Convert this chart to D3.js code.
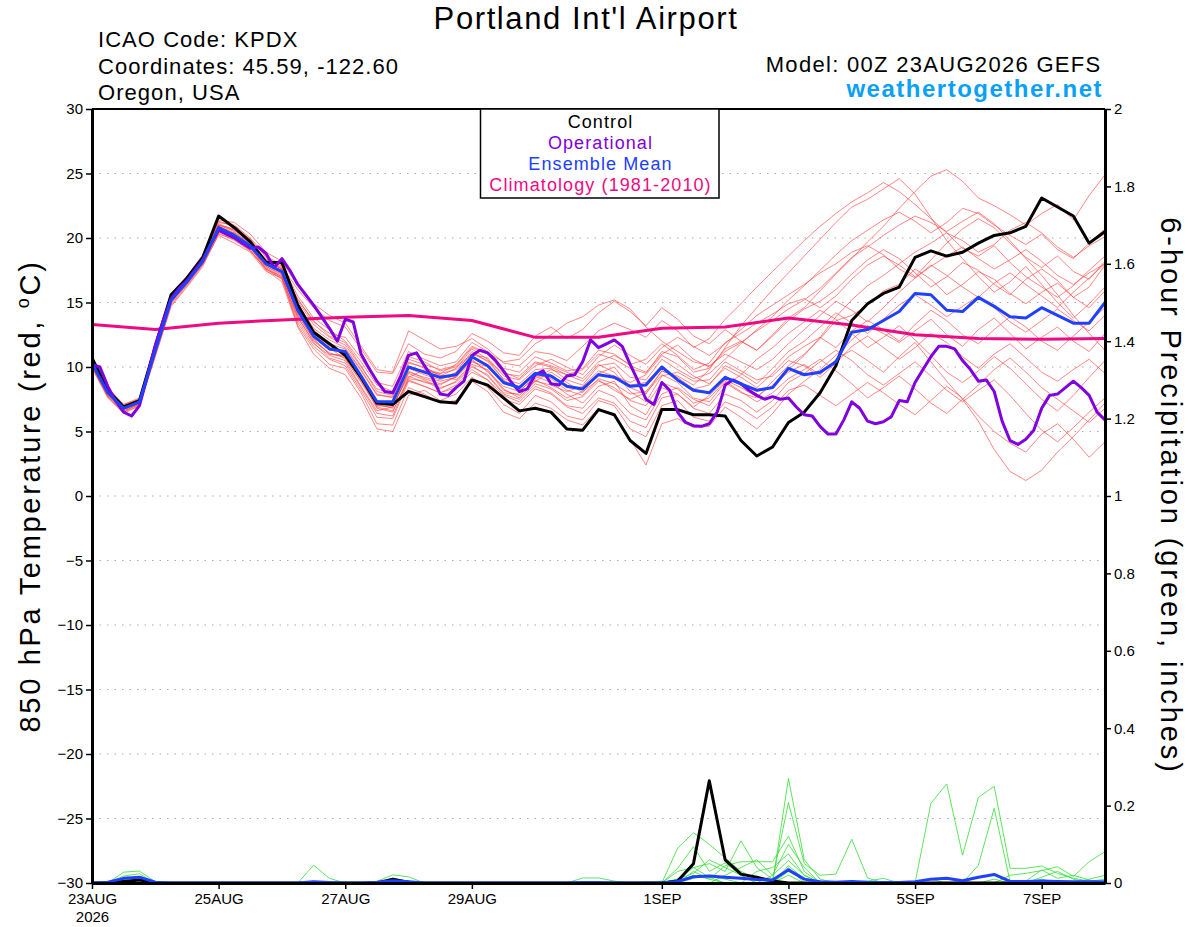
<!DOCTYPE html>
<html>
<head>
<meta charset="utf-8">
<script src="https://cdn.jsdelivr.net/npm/d3@7"></script>
<style>
  body { margin: 0; background: #fff; }
  svg { font-family: "Liberation Sans", Arial, Helvetica, sans-serif; }
</style>
</head>
<body>
<svg id="chart" width="1200" height="927"></svg>
<script>
// ---- data (6-hourly from 00Z 23AUG2026 unless noted) ----
const runStart = Date.UTC(2026, 7, 23, 0);
const tempTicks = [-30, -25, -20, -15, -10, -5, 0, 5, 10, 15, 20, 25, 30];
const precipTicks = [0, 0.2, 0.4, 0.6, 0.8, 1, 1.2, 1.4, 1.6, 1.8, 2];
const dateTicks = ['2026-08-23', '2026-08-25', '2026-08-27', '2026-08-29',
                   '2026-09-01', '2026-09-03', '2026-09-05', '2026-09-07'];
const legendItems = [
  { label: 'Control', color: '#000000' },
  { label: 'Operational', color: '#8000e0' },
  { label: 'Ensemble Mean', color: '#2040ff' },
  { label: 'Climatology (1981-2010)', color: '#ee0a82' }
];

const controlTemp = [10.7,8.2,6.9,7.4,11.6,15.6,16.9,18.5,21.7,20.8,19.7,18.1,18.1,
  14.8,12.7,11.8,10.9,9.2,7.2,7.1,8.1,7.7,7.3,7.2,9.0,8.6,
  7.6,6.6,6.8,6.5,5.2,5.1,6.7,6.3,4.3,3.3,6.7,6.7,6.3,
  6.3,6.2,4.3,3.1,3.8,5.7,6.5,8.0,10.1,13.6,14.9,15.7,16.2,
  18.5,19.0,18.6,18.9,19.6,20.2,20.4,20.9,23.1,22.4,21.7,19.6,20.5];

const meanTemp = [10.3,8.0,6.8,7.3,11.3,15.2,16.6,18.2,20.8,20.2,19.4,18.0,17.4,
  14.4,12.4,11.4,11.2,9.3,7.3,7.3,10.0,9.6,9.2,9.4,10.8,10.1,
  8.8,8.4,9.5,9.3,8.5,8.3,9.4,9.2,8.5,8.6,10.0,9.0,8.2,
  8.0,9.2,8.7,8.2,8.4,9.9,9.4,9.6,10.4,12.7,12.9,13.6,14.3,
  15.7,15.6,14.4,14.3,15.4,14.7,13.9,13.8,14.6,14.0,13.4,13.4,15.0];

// operational run, 3-hourly
const operTemp = [10.2,10.0,8.5,7.35,6.5,6.2,7.0,9.3,11.7,13.6,15.3,16.1,16.7,
  17.5,18.3,19.5,20.6,20.3,20.0,19.6,19.2,19.3,18.8,17.7,18.4,17.5,
  16.4,15.6,14.8,13.9,13.0,12.0,13.7,13.5,11.0,9.9,8.9,8.1,8.0,
  9.3,10.9,11.1,10.1,9.2,7.9,7.8,8.4,8.9,10.9,11.3,11.1,10.5,
  9.7,8.8,8.1,8.3,9.4,9.7,8.7,8.6,9.3,9.4,10.4,12.1,11.5,
  11.8,12.1,11.6,10.2,8.9,7.5,7.1,8.8,8.2,6.5,5.7,5.45,5.4,
  5.6,6.5,8.6,9.0,8.7,8.2,7.8,7.5,7.7,7.5,7.6,6.9,6.3,
  6.2,5.4,4.8,4.8,5.9,7.3,6.8,5.8,5.6,5.75,6.15,7.4,7.3,
  8.8,9.8,10.8,11.6,11.6,11.4,10.5,9.8,8.9,9.0,8.1,5.8,4.3,
  4.0,4.4,5.1,6.8,7.8,7.9,8.4,8.9,8.4,7.8,6.5,5.9];

// climatology, daily
const climTemp = [13.3,12.9,13.4,13.65,13.85,14.0,13.6,12.3,12.3,13.0,13.1,13.8,13.25,12.5,12.2,12.15,12.2];

const ensembleTemp = [
  [10.5,8.3,7.0,7.5,11.8,15.6,17.0,18.6,21.2,21.0,20.0,18.6,17.9,15.5,13.8,12.9,12.0,10.4,8.6,8.1,10.6,10.2,9.8,
   10.1,11.5,11.0,9.6,9.1,10.3,10.0,9.4,9.8,11.0,10.6,9.9,9.5,11.2,10.8,9.6,9.9,11.4,12.0,11.3,12.5,13.8,
   14.6,15.9,17.2,18.4,19.7,20.9,22.3,23.6,24.8,25.3,24.4,23.1,22.5,21.8,21.0,21.9,22.6,21.4,23.3,24.9],
  [10.1,7.8,6.6,7.1,11.0,14.9,16.4,18.0,20.6,20.4,19.6,18.3,17.6,14.9,13.0,12.1,11.5,9.8,7.9,7.6,9.9,9.4,9.0,
   9.6,11.2,10.4,9.1,8.7,9.8,9.9,9.0,8.6,10.1,10.3,9.2,9.0,10.6,9.8,9.1,9.5,10.6,11.8,12.9,13.9,15.2,
   16.3,17.5,18.7,19.8,20.6,21.4,22.0,21.3,20.4,21.2,22.3,21.9,21.0,20.2,19.5,20.3,19.1,18.4,19.6,20.7],
  [10.4,8.1,6.9,7.4,11.5,15.4,16.9,18.4,21.0,20.6,19.8,18.1,17.2,14.0,12.2,11.0,10.8,9.0,6.8,6.5,9.2,9.8,9.4,
   9.0,10.2,9.8,8.3,7.6,8.9,9.6,8.8,8.0,9.5,10.0,8.4,7.9,9.7,9.3,8.6,9.8,11.5,13.2,14.6,16.0,17.3,
   18.6,19.9,21.2,22.4,23.0,23.8,24.6,23.4,21.6,19.8,18.4,17.0,15.8,16.6,17.8,16.4,15.0,13.8,14.9,16.2],
  [9.9,7.6,6.4,7.0,10.8,14.7,16.2,17.8,20.3,19.9,19.2,17.7,17.0,13.6,11.8,10.9,10.5,8.5,6.6,6.9,9.5,9.0,8.4,
   8.8,10.0,9.4,8.0,7.9,9.0,8.4,7.6,8.1,9.0,8.2,7.5,8.0,9.4,8.8,7.6,7.3,8.8,8.0,7.6,8.9,10.1,
   11.0,12.2,13.6,14.0,14.8,15.9,16.4,17.6,16.8,15.6,16.4,17.4,16.8,15.7,14.9,15.8,16.5,15.4,14.6,15.9],
  [10.2,7.9,6.7,7.2,11.1,15.0,16.5,18.1,20.5,20.0,19.1,17.5,16.6,13.1,11.0,9.9,9.4,7.6,5.2,5.0,7.8,8.2,7.4,
   7.9,9.2,8.4,7.1,6.4,7.8,7.3,6.2,5.9,7.4,7.0,5.2,4.6,7.0,7.4,6.1,5.8,7.3,6.8,6.0,6.9,8.2,
   8.6,7.8,7.0,7.9,8.8,8.0,7.1,6.3,7.4,8.5,7.6,6.2,5.0,4.1,3.4,4.8,5.6,4.4,3.0,4.2],
  [10.6,8.2,7.1,7.6,11.6,15.5,16.8,18.3,20.9,20.3,19.3,17.8,17.1,14.3,12.6,11.5,10.6,8.9,7.1,6.8,9.7,9.1,8.7,
   9.2,10.6,9.6,8.5,8.1,9.3,8.8,7.9,7.2,8.5,8.9,7.0,6.3,8.4,7.9,6.9,7.8,9.0,8.4,7.7,8.6,9.6,
   10.2,9.4,10.6,11.3,10.5,9.6,10.8,11.9,10.4,8.9,7.5,5.8,3.6,1.9,1.2,2.0,3.4,4.6,5.9,7.2],
  [10.0,7.7,6.5,7.2,11.4,15.3,16.7,18.5,21.3,20.9,19.9,18.5,17.8,16.0,14.6,13.6,13.1,11.4,9.6,9.5,11.8,11.0,10.7,
   11.2,12.6,12.0,11.1,10.9,12.4,13.1,12.2,12.9,14.2,15.1,14.3,13.2,14.6,13.7,12.4,11.8,12.9,12.0,11.3,12.4,13.6,
   14.5,15.1,16.0,17.2,18.3,19.1,18.4,17.3,16.2,17.0,18.1,17.5,16.4,15.6,16.8,17.6,16.7,15.4,16.2,17.9],
  [10.3,8.0,6.8,7.3,11.2,15.1,16.6,18.0,20.2,19.6,18.9,17.4,16.9,13.2,11.4,10.2,9.9,8.0,5.6,5.5,8.4,7.9,7.2,
   7.4,8.9,8.1,6.5,6.0,7.2,6.8,5.9,5.5,6.8,6.2,4.4,2.4,5.6,6.0,5.3,5.4,6.9,6.1,5.2,6.4,7.9,
   8.9,9.8,10.9,12.1,13.2,12.6,11.9,12.8,13.7,12.5,11.6,12.9,13.8,12.6,11.4,12.3,13.1,12.0,11.2,12.6],
  [10.4,8.1,6.9,7.3,11.3,15.2,16.6,18.2,20.7,20.1,19.4,18.1,17.5,14.5,12.5,11.4,11.1,9.3,7.4,7.2,9.9,9.6,9.1,
   9.5,10.9,10.1,8.8,8.5,9.6,9.3,8.4,8.3,9.5,9.1,8.6,8.8,10.1,9.0,8.1,8.0,9.3,8.6,8.1,8.5,9.8,
   10.9,12.3,13.9,15.2,16.3,17.1,18.0,18.9,19.6,20.4,19.8,18.9,19.5,20.6,21.2,20.4,19.3,18.5,19.4,20.1],
  [10.1,7.9,6.7,7.4,11.5,15.4,16.9,18.4,20.9,20.4,19.5,18.2,17.3,14.1,12.1,11.0,10.9,9.0,7.0,7.1,10.3,10.0,9.3,
   9.9,11.4,10.6,9.0,8.2,9.1,9.8,9.4,8.9,10.2,9.6,8.1,7.3,9.3,9.6,8.9,9.0,10.4,9.7,9.0,9.3,10.5,
   10.1,9.2,10.3,11.6,12.4,11.5,10.6,11.5,12.6,11.9,10.8,9.9,11.0,11.8,10.7,9.6,8.9,9.8,10.6,9.5],
  [10.5,8.2,7.0,7.3,11.2,15.2,16.7,18.3,21.0,20.5,19.6,18.4,17.7,15.1,13.3,12.3,11.7,10.0,8.3,7.9,10.8,10.4,9.7,
   10.0,11.0,10.5,9.5,9.3,10.4,10.1,9.6,9.1,10.4,10.9,10.2,10.6,11.8,10.9,9.8,10.3,11.9,12.6,13.4,14.1,14.9,
   15.3,14.6,15.5,16.8,17.9,18.6,17.9,17.0,18.3,19.6,20.7,21.5,20.8,19.6,18.5,17.7,18.6,17.4,16.8,18.2],
  [10.2,7.8,6.6,7.1,11.0,15.0,16.5,18.1,20.6,20.0,19.2,17.8,17.2,14.2,12.3,11.3,11.2,9.4,7.3,7.0,9.3,8.8,8.6,
   9.3,10.5,9.7,8.2,7.8,8.9,8.6,8.1,8.5,9.7,9.3,8.8,9.4,10.9,10.2,9.3,8.7,9.9,9.2,8.4,9.5,10.8,
   11.6,12.3,11.5,12.8,13.6,12.9,12.0,13.3,14.4,13.6,12.5,11.8,12.9,13.9,13.1,12.0,11.3,12.4,13.5,14.6],
  [10.6,8.4,7.1,7.5,11.7,15.6,17.0,18.7,21.4,21.2,20.3,18.9,18.2,16.3,14.9,14.0,13.4,11.6,9.8,9.6,12.8,12.1,11.4,
   11.6,12.2,11.4,10.3,10.1,11.2,11.0,10.5,11.6,12.8,13.4,12.9,12.3,13.6,12.8,11.5,12.2,13.7,14.9,16.2,17.4,18.6,
   19.8,20.9,21.9,22.8,23.5,24.3,23.6,22.6,21.5,20.4,19.2,18.6,19.4,18.1,17.0,16.2,15.4,16.3,17.5,18.6],
  [10.0,7.7,6.5,7.0,10.9,14.8,16.3,17.9,20.4,19.8,19.0,17.6,17.0,13.8,12.0,11.1,10.7,8.8,6.9,6.6,9.0,8.5,8.0,
   8.6,9.8,9.0,7.8,7.3,8.5,8.0,7.0,6.8,8.2,7.7,6.4,5.9,7.9,8.4,7.5,7.0,8.5,9.4,10.6,11.5,12.6,
   13.5,14.4,13.7,12.6,11.5,12.3,13.2,12.1,10.9,9.6,8.8,9.7,10.8,9.9,8.7,7.5,6.6,7.8,9.2,10.5],
  [10.3,8.0,6.9,7.4,11.4,15.3,16.8,18.4,21.0,20.7,19.9,18.2,17.4,14.7,12.9,11.8,11.4,9.7,7.8,7.7,10.4,9.9,9.5,
   9.8,11.0,10.7,9.3,9.0,10.1,10.6,10.0,9.4,10.8,11.7,10.9,10.2,11.5,12.3,11.6,10.9,11.8,12.9,14.0,14.8,15.6,
   16.4,17.3,18.0,18.9,19.4,18.7,17.6,16.9,17.8,18.6,19.3,18.4,17.6,18.3,19.1,18.2,17.1,16.4,17.3,18.0],
  [10.4,8.1,6.8,7.3,11.3,15.1,16.4,18.0,20.5,19.9,19.0,17.6,16.8,13.4,11.6,10.6,10.1,8.2,6.1,6.0,8.9,8.5,8.0,
   8.4,9.6,9.0,7.5,7.1,8.3,7.9,6.9,6.4,7.6,7.2,5.8,5.3,7.6,7.9,6.8,6.4,7.9,7.4,6.5,7.4,8.8,
   9.5,10.4,11.3,10.5,9.4,8.6,9.5,10.4,9.3,8.2,7.3,8.2,9.0,7.8,6.4,5.1,4.2,5.3,6.5,7.6],
  [10.2,7.9,6.8,7.4,11.6,15.5,16.9,18.5,21.1,20.6,19.7,18.3,17.6,15.3,13.5,12.6,12.3,10.7,8.8,8.5,11.2,10.6,10.1,
   10.4,11.9,11.2,9.9,9.6,10.8,10.3,9.7,9.9,11.3,11.0,10.1,9.6,11.0,11.7,10.6,10.0,11.2,11.9,12.8,13.6,14.5,
   15.2,16.1,17.3,18.5,19.3,20.2,21.0,21.7,21.2,20.5,21.3,22.0,21.1,19.8,18.4,17.1,15.6,14.0,12.6,11.3],
  [10.1,7.8,6.7,7.2,11.1,15.1,16.6,18.2,20.8,20.3,19.4,17.9,17.3,14.6,12.7,11.6,11.0,9.1,7.0,6.9,9.6,9.2,8.9,
   9.2,10.4,10.0,8.7,8.4,9.4,9.1,8.2,7.8,9.1,8.7,7.9,8.1,9.7,9.2,8.3,8.6,10.1,9.5,8.7,9.9,11.2,
   12.0,13.1,14.2,13.4,12.6,13.7,14.8,15.6,14.8,13.9,14.7,15.5,14.6,13.5,12.7,13.6,14.5,13.6,12.8,14.0],
  [10.5,8.2,7.0,7.5,11.4,15.3,16.7,18.3,20.9,20.2,19.3,17.6,16.9,13.9,11.9,10.7,10.3,8.4,6.4,6.2,9.1,8.9,8.3,
   8.9,10.1,9.3,7.9,7.5,8.7,8.3,7.4,7.7,8.9,8.4,7.4,7.0,8.8,8.3,7.2,7.6,8.9,8.1,7.3,8.0,9.1,
   9.8,10.6,9.7,8.7,7.6,8.4,9.3,8.3,7.2,6.4,7.5,8.6,9.8,10.7,9.6,8.4,7.5,6.6,5.7,6.8],
  [10.3,8.0,6.8,7.2,11.2,15.2,16.6,18.1,20.6,20.2,19.5,18.2,17.6,15.2,13.6,12.4,11.9,10.1,8.1,7.8,10.0,9.7,9.5,
   10.2,11.6,11.1,10.4,10.6,11.8,12.5,13.4,13.9,14.8,15.2,14.5,13.1,12.0,11.2,10.4,10.1,11.0,10.4,9.8,10.6,11.8,
   12.9,14.0,15.1,14.4,13.5,14.6,15.8,16.9,17.9,17.1,16.2,15.4,16.5,17.3,16.4,15.5,14.6,15.8,16.9,18.0]
];

const controlPrecip = [0,0,0.004,0.008,0,0,0,0,0,0,0,0,0,
  0,0,0,0,0,0,0.01,0.002,0,0,0,0,0,
  0,0,0,0,0,0,0,0,0,0,0,0.005,0.05,
  0.264,0.06,0.023,0.015,0.005,0,0,0,0,0,0,0,0,
  0,0,0,0,0,0,0,0,0,0,0,0,0];

const meanPrecip = [0,0.002,0.012,0.015,0.002,0,0,0,0,0,0,0,0,
  0,0.003,0.001,0,0,0.002,0.006,0.003,0,0,0,0,0,
  0,0,0,0,0,0.001,0.001,0,0,0,0,0.004,0.016,
  0.018,0.015,0.012,0.009,0.008,0.034,0.01,0.003,0.002,0.004,0.002,0.001,0.001,
  0.003,0.01,0.012,0.006,0.015,0.022,0.004,0.004,0.005,0.004,0.003,0.003,0.003];

const ensemblePrecip = [
  [0,0,0.028,0.031,0.003,0,0,0,0,0,0,0,0, 0,0,0,0,0,0,0,0,0,0,0,0,0,
   0,0,0,0,0,0,0,0,0,0,0,0.09,0.13, 0.10,0.065,0.03,0.01,0,0.045,0.01,0,0,0,0,0,0,
   0,0,0,0,0,0,0,0,0,0,0,0,0],
  [0,0,0.018,0.024,0,0,0,0,0,0,0,0,0, 0,0.046,0.012,0,0,0,0,0,0,0,0,0,0,
   0,0,0,0,0,0,0,0,0,0,0,0.038,0.094, 0.03,0.052,0.02,0,0,0.27,0.06,0.01,0,0,0,0,0,
   0,0,0,0,0,0,0,0,0,0,0,0.004,0.01],
  [0,0,0.008,0.01,0,0,0,0,0,0,0,0,0, 0,0,0,0,0,0.004,0.021,0.016,0,0,0,0,0,
   0,0,0,0,0,0,0,0,0,0,0,0.01,0.04, 0.05,0.03,0.109,0.04,0.01,0.208,0.05,0.02,0.023,0.113,0.013,0,0,
   0,0,0,0,0,0,0,0,0,0,0,0,0],
  [0,0,0.01,0.015,0,0,0,0,0,0,0,0,0, 0,0,0,0,0,0,0.012,0.004,0,0,0,0,0,
   0,0,0,0,0,0,0,0,0,0,0,0,0.02, 0.01,0.045,0.055,0.055,0.055,0.121,0.03,0,0,0,0,0,0,
   0,0.206,0.256,0.072,0.221,0.25,0.038,0.038,0.044,0.025,0.012,0.005,0],
  [0,0,0,0,0,0,0,0,0,0,0,0,0, 0,0,0,0,0,0,0,0,0,0,0,0,0,
   0,0,0,0,0,0.013,0.013,0.005,0,0,0,0,0.03, 0.01,0,0,0,0.02,0.058,0.02,0,0,0,0,0,0,
   0,0,0,0,0.046,0.193,0.004,0,0.01,0,0,0,0],
  [0,0,0,0,0,0,0,0,0,0,0,0,0, 0,0,0,0,0,0,0,0,0,0,0,0,0,
   0,0,0,0,0,0,0,0,0,0,0,0.01,0.025, 0.06,0.04,0.02,0,0,0.03,0.01,0,0,0,0,0,0,
   0,0,0,0,0,0,0.02,0.025,0.032,0.042,0.017,0.055,0.081],
  [0,0,0,0,0,0,0,0,0,0,0,0,0, 0,0,0,0,0,0,0,0,0,0,0,0,0,
   0,0,0,0,0,0,0,0,0,0,0,0,0, 0,0.02,0.04,0.06,0.02,0.1,0.04,0,0,0,0,0,0,
   0,0,0,0,0,0,0,0.005,0.034,0.012,0.02,0.008,0],
  [0,0,0,0,0,0,0,0,0,0,0,0,0, 0,0,0,0,0,0,0,0,0,0,0,0,0,
   0,0,0,0,0,0,0,0,0,0,0,0,0.012, 0.02,0.01,0,0,0,0.04,0,0,0,0,0.005,0.012,0,
   0,0.01,0,0,0,0,0,0,0.015,0.03,0.01,0,0],
  [0,0,0.005,0,0,0,0,0,0,0,0,0,0, 0,0,0,0,0,0,0,0,0,0,0,0,0,
   0,0,0,0,0,0,0,0,0,0.003,0,0.03,0.04, 0.015,0,0,0.03,0.04,0.075,0.02,0,0,0,0,0,0,
   0,0,0,0,0,0.01,0,0,0,0,0,0,0],
  [0,0,0,0,0,0,0,0,0,0,0,0,0, 0,0,0,0,0,0,0,0,0,0,0,0,0,
   0,0,0,0,0,0,0,0,0,0,0.005,0,0, 0,0,0,0,0,0.02,0,0.005,0,0,0,0,0,
   0,0,0,0.004,0,0,0,0,0,0,0,0.01,0.02]
];

// ---- chart ----
const svg = d3.select('#chart');
const plotLeft = 92, plotRight = 1105, plotTop = 109, plotBottom = 883;
const hour = 3600e3;
const at = step => (v, i) => new Date(runStart + i * step * hour);

const x = d3.scaleUtc()
  .domain([new Date(runStart), new Date(runStart + 384 * hour)])
  .range([plotLeft, plotRight]);
const yT = d3.scaleLinear().domain([-30, 30]).range([plotBottom, plotTop]);
const yP = d3.scaleLinear().domain([0, 2]).range([plotBottom, plotTop]);

svg.append('defs').append('clipPath').attr('id', 'plot-clip')
  .append('rect').attr('x', plotLeft).attr('y', plotTop - 2)
  .attr('width', plotRight - plotLeft).attr('height', plotBottom - plotTop + 2);

// grid
svg.append('g').selectAll('line')
  .data(tempTicks.filter(v => v > -30 && v < 30))
  .join('line')
  .attr('x1', plotLeft).attr('x2', plotRight)
  .attr('y1', d => yT(d)).attr('y2', d => yT(d))
  .attr('stroke', '#aaaaaa').attr('stroke-width', 1)
  .attr('stroke-dasharray', '1.5,6');

const plot = svg.append('g').attr('clip-path', 'url(#plot-clip)');

const lineStep = (step, scale) => d3.line()
  .x((d, i) => x(at(step)(d, i)))
  .y(d => scale(d));

// ensemble members
plot.append('g').selectAll('path')
  .data(ensembleTemp).join('path')
  .attr('d', lineStep(6, yT))
  .attr('fill', 'none').attr('stroke', '#ff4040')
  .attr('stroke-width', 0.75).attr('stroke-opacity', 0.85);

plot.append('g').selectAll('path')
  .data(ensemblePrecip).join('path')
  .attr('d', lineStep(6, yP))
  .attr('fill', 'none').attr('stroke', '#33dd33')
  .attr('stroke-width', 0.8);

// main lines
const mainLines = [
  { data: climTemp, step: 24, scale: yT, color: '#ee0a82' },
  { data: controlTemp, step: 6, scale: yT, color: '#000000' },
  { data: controlPrecip, step: 6, scale: yP, color: '#000000' },
  { data: operTemp, step: 3, scale: yT, color: '#8000e0' },
  { data: meanTemp, step: 6, scale: yT, color: '#2040ff' },
  { data: meanPrecip, step: 6, scale: yP, color: '#2040ff' }
];
plot.append('g').selectAll('path')
  .data(mainLines).join('path')
  .attr('d', d => lineStep(d.step, d.scale)(d.data))
  .attr('fill', 'none').attr('stroke', d => d.color)
  .attr('stroke-width', 3).attr('stroke-linejoin', 'round');

// axes
const fmtDate = d => d3.utcFormat('%-d%b')(d).toUpperCase();
const leftAxis = svg.append('g').attr('transform', `translate(${plotLeft},0)`)
  .call(d3.axisLeft(yT).tickValues(tempTicks).tickSize(6).tickPadding(3).tickSizeOuter(0));
const rightAxis = svg.append('g').attr('transform', `translate(${plotRight},0)`)
  .call(d3.axisRight(yP).tickValues(precipTicks).tickFormat(d3.format('~g')).tickSize(6).tickPadding(3).tickSizeOuter(0));
const bottomAxis = svg.append('g').attr('transform', `translate(0,${plotBottom})`)
  .call(d3.axisBottom(x).tickValues(dateTicks.map(s => new Date(s + 'T00:00:00Z')))
    .tickFormat(fmtDate).tickSize(6).tickPadding(4).tickSizeOuter(0));

[leftAxis, rightAxis, bottomAxis].forEach(a => {
  a.select('.domain').attr('stroke-width', 3);
  a.selectAll('.tick line').attr('stroke-width', 1.5);
  a.selectAll('text').attr('font-size', 15).attr('fill', '#000')
    .attr('font-family', '"Liberation Sans", Arial, sans-serif');
});

bottomAxis.select('.tick text').clone(true).text('2026').attr('dy', '1.95em');

svg.append('line').attr('x1', plotLeft).attr('x2', plotRight)
  .attr('y1', plotTop).attr('y2', plotTop).attr('stroke', '#000').attr('stroke-width', 2);

// legend
const legend = svg.append('g');
legend.append('rect').attr('x', 480.5).attr('y', plotTop).attr('width', 238.5).attr('height', 89)
  .attr('fill', '#fff').attr('stroke', '#000').attr('stroke-width', 1.5);
legend.selectAll('text').data(legendItems).join('text')
  .attr('x', 600.5).attr('y', (d, i) => 128 + i * 21)
  .attr('text-anchor', 'middle').attr('font-size', 18).attr('letter-spacing', 1.1)
  .attr('fill', d => d.color).text(d => d.label);

// titles
svg.append('text').attr('x', 586).attr('y', 29).attr('text-anchor', 'middle')
  .attr('font-size', 31).attr('letter-spacing', 1.6).text("Portland Int'l Airport");

const info = ['ICAO Code: KPDX', 'Coordinates: 45.59, -122.60', 'Oregon, USA'];
svg.append('g').selectAll('text').data(info).join('text')
  .attr('x', 98).attr('y', (d, i) => 47 + i * 26.5)
  .attr('font-size', 22).attr('letter-spacing', 1.05).text(d => d);

svg.append('text').attr('x', 1101.5).attr('y', 72).attr('text-anchor', 'end')
  .attr('font-size', 22).attr('letter-spacing', 1.3).text('Model: 00Z 23AUG2026 GEFS');
svg.append('text').attr('x', 1103).attr('y', 97).attr('text-anchor', 'end')
  .attr('font-size', 24).attr('font-weight', 'bold').attr('letter-spacing', 1.5).attr('fill', '#0aa0f5')
  .text('weathertogether.net');

const yLab = svg.append('text')
  .attr('transform', 'translate(40,496) rotate(-90)')
  .attr('text-anchor', 'middle').attr('font-size', 29).attr('letter-spacing', 2.7);
yLab.append('tspan').text('850 hPa Temperature (red, ');
yLab.append('tspan').attr('font-size', 18).attr('dy', -11).text('o');
yLab.append('tspan').attr('dy', 11).text('C)');

svg.append('text')
  .attr('transform', 'translate(1161,496) rotate(90)')
  .attr('text-anchor', 'middle').attr('font-size', 29).attr('letter-spacing', 2.9)
  .text('6-hour Precipitation (green, inches)');
</script>
</body>
</html>
